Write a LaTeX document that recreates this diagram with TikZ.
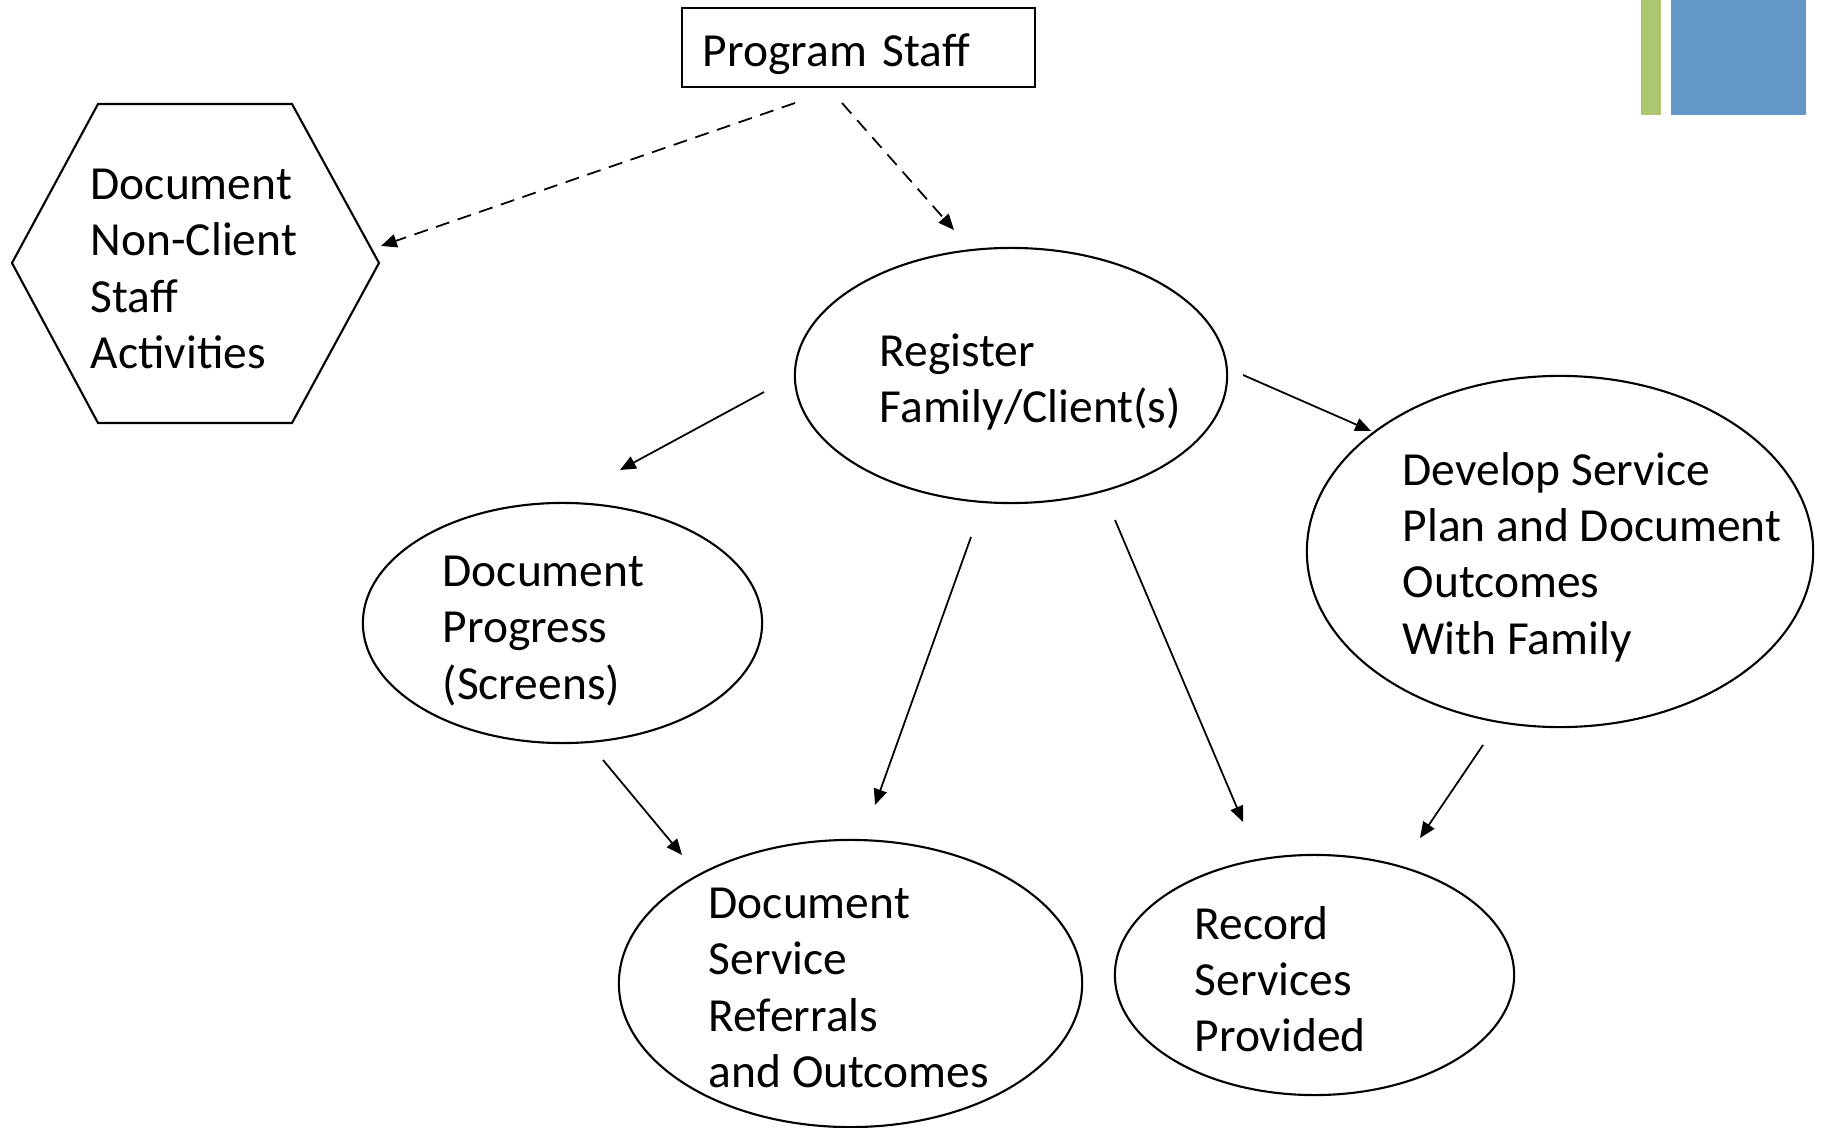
\documentclass[tikz,border=0pt]{standalone}
\usepackage{fontspec}
\setmainfont{Carlito}
\usepackage{tikz}
\usetikzlibrary{shapes.geometric, arrows.meta, positioning}

\definecolor{bargreen}{RGB}{173,198,111}
\definecolor{barblue}{RGB}{98,151,200}

\begin{document}
\begin{tikzpicture}[x=0.01cm, y=-0.01cm,
    txt/.style={font=\fontsize{13.5}{16}\selectfont, align=left, inner sep=0pt},
    oval/.style={draw, ellipse, line width=0.6pt, inner sep=0pt},
    flow/.style={-{Triangle[length=4.5pt,width=3.8pt]}, line width=0.5pt},
    dflow/.style={flow, dash pattern=on 4pt off 2.5pt}]
    \useasboundingbox (0,0) rectangle (1825,1128);

    % Corner bars
    \fill[bargreen] (1641,0) rectangle (1661,115);
    \fill[barblue] (1671,0) rectangle (1806,115);

    % Staff box
    \node[draw, line width=0.6pt, txt, text width=3.11cm, inner xsep=0.21cm, text height=14pt, text depth=3.4pt, minimum height=0.79cm] (staff) at (858.5,47.5) {Program Staff};

    % Hexagon
    \node[txt, anchor=west] (hex) at (90,269) {Document\\Non-Client\\Staff\\Activities};
    \draw[line width=0.6pt] (12,263) -- (98,104) -- (292,104) -- (379,263) -- (292,423) -- (98,423) -- cycle;

    % Ellipses
    \node[oval, minimum width=4.32cm, minimum height=2.55cm] (reg) at (1011,375.5) {};
    \node[txt, anchor=west] (reg-t) at (879,382) {Register\\Family/Client(s)};

    \node[oval, minimum width=5.06cm, minimum height=3.51cm] (dev) at (1560,551.5) {};
    \node[txt, anchor=west] (dev-t) at (1402,557) {Develop Service\\Plan and Document\\Outcomes\\With Family};

    \node[oval, minimum width=3.99cm, minimum height=2.40cm] (prog) at (562.5,623) {};
    \node[txt, anchor=west] (prog-t) at (442,631) {Document\\Progress\\(Screens)};

    \node[oval, minimum width=4.63cm, minimum height=2.87cm] (ref) at (850.5,983.5) {};
    \node[txt, anchor=west] (ref-t) at (708,988) {Document\\Service\\Referrals\\and Outcomes};

    \node[oval, minimum width=3.99cm, minimum height=2.40cm] (rec) at (1314.5,975) {};
    \node[txt, anchor=west] (rec-t) at (1194,979) {Record\\Services\\Provided};

    % Arrow ends
    \coordinate (staff-l) at (795,103);
    \coordinate (staff-r) at (842,103);
    \coordinate (hex-in) at (381,246);
    \coordinate (reg-in) at (954,230);
    \coordinate (reg-w) at (764,392);
    \coordinate (reg-e) at (1243,375);
    \coordinate (reg-s1) at (971,537);
    \coordinate (reg-s2) at (1115,520);
    \coordinate (prog-in) at (620,470);
    \coordinate (prog-out) at (603,760);
    \coordinate (dev-in) at (1371,431);
    \coordinate (dev-out) at (1483,745);
    \coordinate (ref-in1) at (875,805);
    \coordinate (ref-in2) at (682,855);
    \coordinate (rec-in1) at (1243,822);
    \coordinate (rec-in2) at (1420,838);

    % Arrows
    \draw[dflow] (staff-l) -- (hex-in);
    \draw[dflow] (staff-r) -- (reg-in);
    \draw[flow] (reg-w) -- (prog-in);
    \draw[flow] (reg-e) -- (dev-in);
    \draw[flow] (reg-s1) -- (ref-in1);
    \draw[flow] (reg-s2) -- (rec-in1);
    \draw[flow] (dev-out) -- (rec-in2);
    \draw[flow] (prog-out) -- (ref-in2);
\end{tikzpicture}
\end{document}
